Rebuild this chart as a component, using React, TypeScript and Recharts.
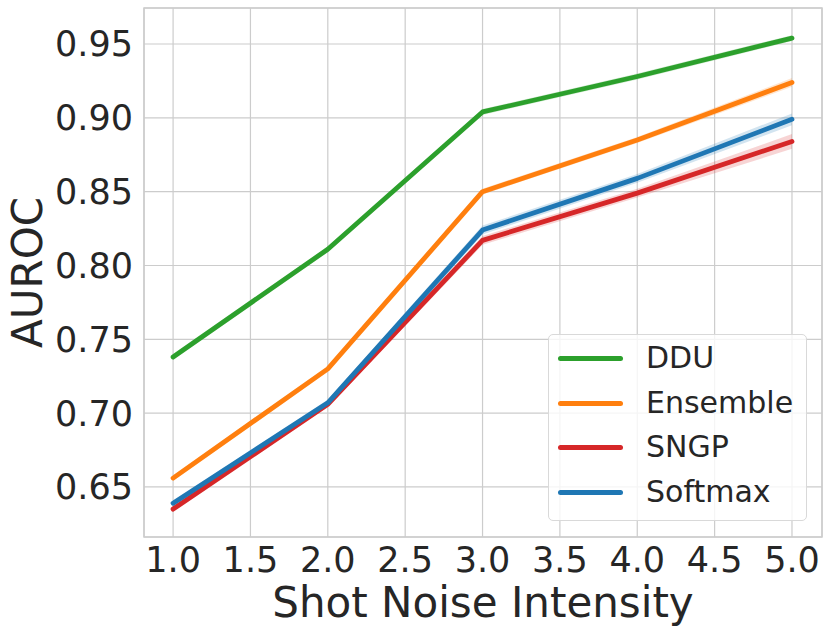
import {
  Area,
  CartesianGrid,
  ComposedChart,
  Label,
  Line,
  ReferenceArea,
  XAxis,
  YAxis,
} from 'recharts'

const intensities = [1, 2, 3, 4, 5]
const xTicks = [1, 1.5, 2, 2.5, 3, 3.5, 4, 4.5, 5]
const yTicks = [0.65, 0.7, 0.75, 0.8, 0.85, 0.9, 0.95]

const dduMean = [0.738, 0.811, 0.904, 0.928, 0.954]
const dduErr = [0.002, 0.002, 0.002, 0.002, 0.002]
const ensembleMean = [0.656, 0.73, 0.85, 0.885, 0.924]
const ensembleErr = [0.002, 0.002, 0.002, 0.002, 0.003]
const sngpMean = [0.635, 0.706, 0.817, 0.849, 0.884]
const sngpErr = [0.002, 0.002, 0.003, 0.003, 0.005]
const softmaxMean = [0.639, 0.707, 0.824, 0.859, 0.899]
const softmaxErr = [0.002, 0.002, 0.003, 0.003, 0.004]

const series = [
  { key: 'ddu', name: 'DDU', color: '#2ca02c', mean: dduMean, err: dduErr },
  { key: 'ensemble', name: 'Ensemble', color: '#ff7f0e', mean: ensembleMean, err: ensembleErr },
  { key: 'sngp', name: 'SNGP', color: '#d62728', mean: sngpMean, err: sngpErr },
  { key: 'softmax', name: 'Softmax', color: '#1f77b4', mean: softmaxMean, err: softmaxErr },
]

const data = intensities.map((x, i) => {
  const row: Record<string, number | number[]> = { x }
  series.forEach((s) => {
    row[s.key] = s.mean[i]
    row[s.key + 'Band'] = [s.mean[i] - s.err[i], s.mean[i] + s.err[i]]
  })
  return row
})

const X_DOMAIN: [number, number] = [0.812, 5.194]
const Y_DOMAIN: [number, number] = [0.6161, 0.9744]
const FONT = '"DejaVu Sans", sans-serif'
const TEXT = '#262626'
const GRID = '#cccccc'

export default function App() {
  return (
    <div style={{ position: 'absolute', left: 0, top: 0, width: 831, height: 635, fontFamily: FONT }}>
      <ComposedChart width={831} height={635} data={data} margin={{ top: 8, right: 9, bottom: 0, left: 0 }}>
        <CartesianGrid stroke={GRID} strokeWidth={1.2} />
        <XAxis
          dataKey="x"
          type="number"
          domain={X_DOMAIN}
          ticks={xTicks}
          tickFormatter={(v: number) => v.toFixed(1)}
          height={98}
          tickLine={false}
          tickSize={0}
          tickMargin={10}
          axisLine={false}
          tick={{ fontSize: 35, fill: TEXT, fontFamily: FONT }}
        >
          <Label value="Shot Noise Intensity" position="insideBottom" offset={18} fontSize={42} fill={TEXT} fontFamily={FONT} />
        </XAxis>
        <YAxis
          type="number"
          domain={Y_DOMAIN}
          ticks={yTicks}
          tickFormatter={(v: number) => v.toFixed(2)}
          width={144}
          tickLine={false}
          tickSize={0}
          tickMargin={11}
          axisLine={false}
          tick={{ fontSize: 35, fill: TEXT, fontFamily: FONT }}
        >
          <Label
            content={({ viewBox }: any) => {
              const cy = viewBox.y + viewBox.height / 2
              return (
                <text
                  x={42}
                  y={cy}
                  transform={`rotate(-90, 42, ${cy})`}
                  textAnchor="middle"
                  fontSize={42}
                  fill={TEXT}
                  fontFamily={FONT}
                >
                  AUROC
                </text>
              )
            }}
          />
        </YAxis>
        <ReferenceArea
          x1={X_DOMAIN[0]}
          x2={X_DOMAIN[1]}
          y1={Y_DOMAIN[0]}
          y2={Y_DOMAIN[1]}
          fill="none"
          stroke={GRID}
          strokeWidth={1.5}
        />
        {series.map((s) => (
          <Area
            key={s.key + 'Band'}
            dataKey={s.key + 'Band'}
            type="linear"
            stroke="none"
            fill={s.color}
            fillOpacity={0.2}
            isAnimationActive={false}
            legendType="none"
          />
        ))}
        {series.map((s) => (
          <Line
            key={s.key}
            dataKey={s.key}
            name={s.name}
            type="linear"
            stroke={s.color}
            strokeWidth={4.8}
            strokeLinecap="round"
            strokeLinejoin="round"
            dot={false}
            activeDot={false}
            isAnimationActive={false}
          />
        ))}
      </ComposedChart>
      <div
        style={{
          position: 'absolute',
          left: 548,
          top: 334,
          width: 259,
          height: 187,
          boxSizing: 'border-box',
          background: 'rgba(255,255,255,0.8)',
          border: '1.5px solid #d9d9d9',
          borderRadius: 5,
          paddingTop: 1,
          paddingLeft: 9,
        }}
      >
        {series.map((s) => (
          <div key={s.key} style={{ display: 'flex', alignItems: 'center', height: 44.7 }}>
            <div style={{ width: 65, height: 5, borderRadius: 3, background: s.color }} />
            <span style={{ marginLeft: 23, fontSize: 30, color: TEXT, lineHeight: '44.7px' }}>{s.name}</span>
          </div>
        ))}
      </div>
    </div>
  )
}
